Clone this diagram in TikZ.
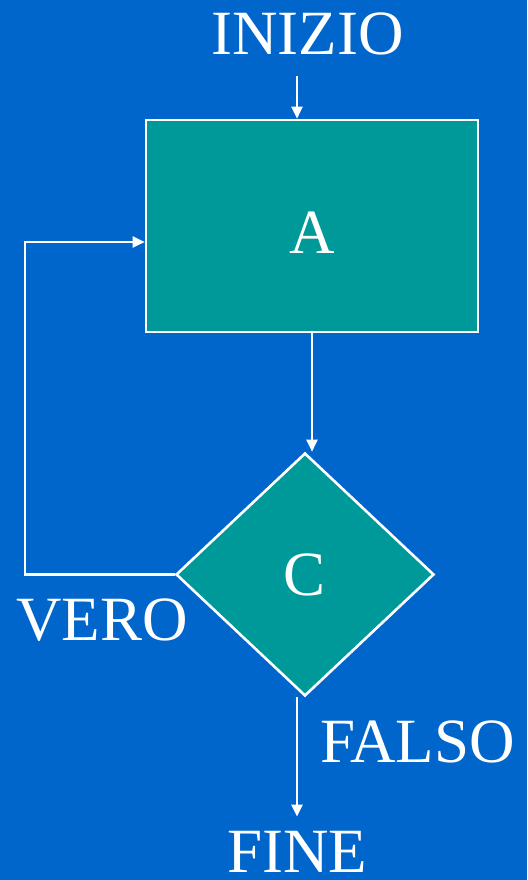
\documentclass[tikz,border=0pt]{standalone}
\usepackage{fontspec}
\setmainfont{Liberation Serif}
\usetikzlibrary{shapes.geometric,arrows.meta}
\definecolor{bgblue}{RGB}{0,102,204}
\definecolor{boxteal}{RGB}{0,153,153}
\begin{document}
\begin{tikzpicture}[x=1pt,y=1pt,
  big/.style={font=\fontsize{63}{70}\selectfont, text=white, inner sep=0pt},
  flowbox/.style={draw=white, line width=2.6pt, fill=boxteal, inner sep=0pt},
  link/.style={draw=white, line width=2.4pt, -{Triangle[length=12pt,width=11pt]}}]
  % background
  \fill[bgblue] (0,0) rectangle (527,-880);
  \useasboundingbox (0,0) rectangle (527,-880);

  % labels
  \node[big, anchor=base] (INIZIO) at (307.5,-55) {INIZIO};
  \node[big, anchor=base] (VERO)   at (102,-640) {VERO};
  \node[big, anchor=base] (FALSO)  at (417.5,-762) {FALSO};
  \node[big, anchor=base] (FINE)   at (297,-872) {FINE};

  % process box and decision
  \node[flowbox, rectangle, minimum width=332pt, minimum height=212pt] (A) at (312,-226) {};
  \node[big] at ([yshift=-7pt]A.center) {A};
  \node[flowbox, diamond, minimum width=258pt, minimum height=243pt] (C) at (305,-574.5) {};
  \node[big] at (C.center) {C};

  % connectors
  \coordinate (s0) at (297,-76);
  \coordinate (L) at (25,-242);
  \draw[link] (s0) -- (s0 |- A.north);
  \draw[link] (A.south) -- (A.south |- C.north);
  \draw[link] (C.west) -- (C.west -| L) -- (L) -- (L -| A.west);
  \draw[link, shorten >=14pt] (FINE.north |- C.south) -- (FINE.north);
\end{tikzpicture}
\end{document}
